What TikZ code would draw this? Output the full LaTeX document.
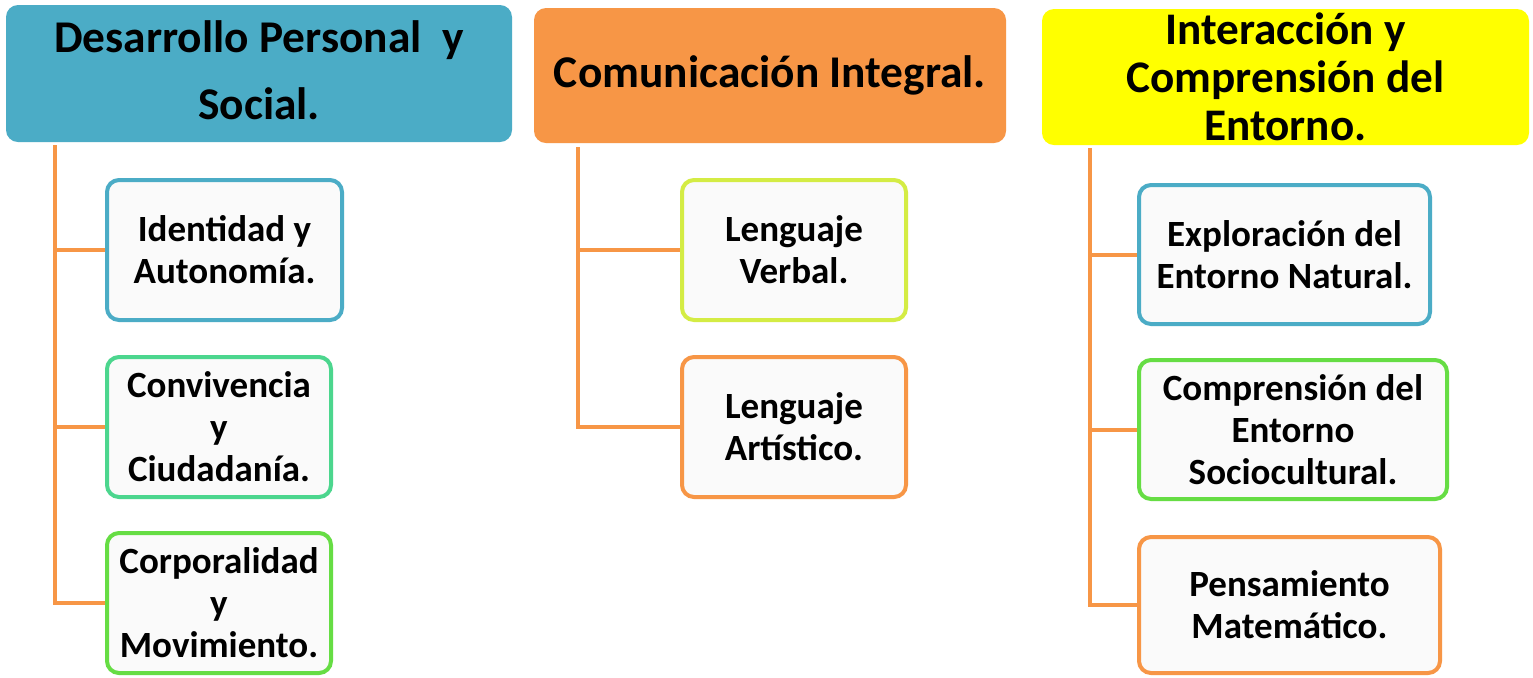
\documentclass[tikz,border=0pt]{standalone}
\usepackage{fontspec}
\setmainfont{Carlito}
\definecolor{teal1}{HTML}{4BACC6}
\definecolor{orng}{HTML}{F79646}
\definecolor{yel}{HTML}{FFFF00}
\definecolor{grn1}{HTML}{4CD68E}
\definecolor{grn2}{HTML}{66DD44}
\definecolor{lime1}{HTML}{D4EC44}
\definecolor{boxfill}{HTML}{FAFAFA}
\begin{document}
\begin{tikzpicture}[x=0.5pt,y=-0.5pt,
  head/.style={rounded corners=6pt, inner sep=0pt, align=center, font=\bfseries\fontsize{22.7}{32}\selectfont},
  cbox/.style={draw, line width=2pt, fill=boxfill, rounded corners=6pt, inner sep=0pt, align=center, minimum height=70pt, font=\bfseries\fontsize{18.5}{21}\selectfont},
  conn/.style={draw=orng, line width=2pt}]
\useasboundingbox[fill=white] (0,0) rectangle (1533,677);
% headings
\node[head, fill=teal1, minimum width=253pt, minimum height=68.5pt] (h1) at (259,73.5) {\raisebox{0.5pt}{\begin{tabular}{@{}c@{}}Desarrollo Personal\ \ y\\[1.5pt]Social.\end{tabular}}};
\node[head, fill=orng, minimum width=236pt, minimum height=67.5pt] (h2) at (770,75.5) {Comunicación Integral.};
\node[head, fill=yel, minimum width=243.5pt, minimum height=68pt, font=\bfseries\fontsize{22.6}{24}\selectfont] (h3) at (1285.5,77) {Interacción y\\Comprensión del\\Entorno.};
% column 1
\node[cbox, draw=teal1, minimum width=117.5pt] (c11) at (224.5,250) {Identidad y\\Autonomía.};
\node[cbox, draw=grn1, minimum width=112pt] (c12) at (219,427) {Convivencia\\y\\Ciudadanía.};
\node[cbox, draw=grn2, minimum width=112pt] (c13) at (219,603) {Corporalidad\\y\\Movimiento.};
% column 2
\node[cbox, draw=lime1, minimum width=112pt] (c21) at (794,250) {Lenguaje\\Verbal.};
\node[cbox, draw=orng, minimum width=112pt] (c22) at (794,427) {Lenguaje\\Artístico.};
% column 3
\node[cbox, draw=teal1, minimum width=145.5pt, minimum height=69.5pt] (c31) at (1284.5,254.5) {Exploración del\\Entorno Natural.};
\node[cbox, draw=grn2, minimum width=154pt, minimum height=69.5pt] (c32) at (1293,429.5) {Comprensión del\\Entorno\\Sociocultural.};
\node[cbox, draw=orng, minimum width=150.5pt, minimum height=68pt] (c33) at (1289.5,605) {Pensamiento\\Matemático.};
% connectors
\coordinate (t1) at (55,145);
\coordinate (t2) at (578,147);
\coordinate (t3) at (1090,148);
\draw[conn] (t1) |- (c13.west);
\draw[conn] (t1) |- (c11.west);
\draw[conn] (t1) |- (c12.west);
\draw[conn] (t2) |- (c22.west);
\draw[conn] (t2) |- (c21.west);
\draw[conn] (t3) |- (c33.west);
\draw[conn] (t3) |- (c31.west);
\draw[conn] (t3) |- (c32.west);
\end{tikzpicture}
\end{document}
